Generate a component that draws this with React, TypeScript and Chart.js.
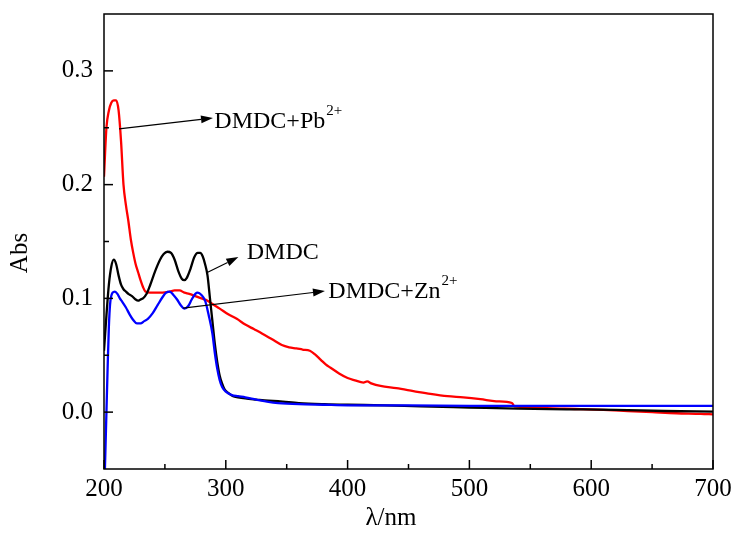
import React, { useEffect, useRef } from 'react';
import { Chart, registerables } from 'chart.js';

Chart.register(...registerables);

// ---- data ----
const pbWavelength = [200, 202, 204, 206, 208, 210, 212, 214, 216, 218, 220, 222, 224, 226, 228, 230, 232, 234, 238, 242, 248, 254, 258, 262, 266, 270, 275, 280, 285, 289, 295, 302, 309, 316, 323, 330, 338, 346, 352, 358, 363, 369, 373, 378, 382, 386, 393, 400, 406, 413, 416, 420, 427, 440, 454, 468, 482, 495, 509, 522, 535, 537, 550, 564, 578, 591, 610, 630, 650, 670, 690, 700];
const pbAbs = [0.207, 0.25, 0.265, 0.272, 0.274, 0.274, 0.265, 0.238, 0.2, 0.182, 0.168, 0.152, 0.14, 0.13, 0.123, 0.116, 0.11, 0.106, 0.105, 0.105, 0.105, 0.106, 0.107, 0.107, 0.105, 0.104, 0.102, 0.1, 0.098, 0.095, 0.091, 0.086, 0.082, 0.077, 0.073, 0.069, 0.064, 0.059, 0.057, 0.056, 0.055, 0.054, 0.051, 0.046, 0.042, 0.039, 0.034, 0.03, 0.028, 0.026, 0.027, 0.025, 0.023, 0.021, 0.0185, 0.016, 0.014, 0.013, 0.0114, 0.0095, 0.008, 0.005, 0.0045, 0.0035, 0.003, 0.0026, 0.002, 0.001, 0.0, -0.001, -0.0015, -0.002];

const dmdcWavelength = [200, 202, 204, 206, 208, 210, 212, 214, 216, 218, 220, 223, 226, 228, 230, 232, 235, 238, 242, 246, 249, 252, 255, 258, 261, 264, 266, 268, 271, 274, 277, 279, 281, 283, 285, 287, 289, 291, 293, 295, 297, 299, 302, 306, 310, 316, 325, 335, 343, 360, 381, 400, 430, 460, 500, 540, 580, 620, 660, 700];
const dmdcAbs = [0.054, 0.085, 0.112, 0.128, 0.134, 0.13, 0.12, 0.112, 0.108, 0.106, 0.104, 0.102, 0.099, 0.098, 0.099, 0.1, 0.104, 0.112, 0.124, 0.134, 0.139, 0.141, 0.14, 0.134, 0.124, 0.117, 0.116, 0.118, 0.126, 0.136, 0.14, 0.14, 0.137, 0.13, 0.12, 0.1, 0.08, 0.06, 0.044, 0.032, 0.025, 0.02, 0.017, 0.014, 0.013, 0.012, 0.011, 0.01, 0.0097, 0.008, 0.007, 0.0065, 0.006, 0.005, 0.004, 0.003, 0.0025, 0.002, 0.001, 0.0005];

const znWavelength = [200, 201, 202, 203, 204, 205, 207, 209, 211, 213, 215, 218, 221, 224, 227, 230, 233, 236, 240, 244, 248, 251, 254, 257, 260, 263, 266, 269, 272, 275, 277, 280, 283, 286, 289, 291, 293, 295, 297, 300, 305, 310, 316, 325, 335, 343, 360, 380, 400, 450, 500, 550, 600, 650, 700];
const znAbs = [-0.08, -0.04, 0.0, 0.04, 0.075, 0.095, 0.105, 0.106, 0.104, 0.1, 0.097, 0.092, 0.086, 0.081, 0.078, 0.078, 0.08, 0.082, 0.087, 0.094, 0.101, 0.105, 0.106, 0.103, 0.099, 0.094, 0.091, 0.093, 0.099, 0.104, 0.105, 0.103, 0.098, 0.085, 0.069, 0.052, 0.038, 0.028, 0.022, 0.018, 0.015, 0.014, 0.013, 0.011, 0.009, 0.008, 0.007, 0.0065, 0.006, 0.006, 0.0055, 0.0055, 0.0055, 0.0055, 0.0055];

const xMajorTicks = [200, 300, 400, 500, 600, 700];
const xMinorTicks = [250, 350, 450, 550, 650];
const yMajorTicks = [0.0, 0.1, 0.2, 0.3];
const yMinorTicks = [0.05, 0.15, 0.25];

const xTitle = 'λ/nm';
const yTitle = 'Abs';

// annotation labels: text, superscript, arrow start/end and text baseline in data units
const labelTexts = ['DMDC+Pb', 'DMDC', 'DMDC+Zn'];
const labelSups = ['2+', '', '2+'];
const arrowFrom = [[212.3, 0.249], [284.3, 0.1225], [264.9, 0.0915]];
const arrowTo = [[289.5, 0.2586], [310.3, 0.1363], [381.4, 0.1064]];
const labelAt = [[290.6, 0.2500], [317.2, 0.1346], [384.2, 0.1005]];

const FONT = '"Liberation Serif", "Times New Roman", serif';

const toPoints = (xs: number[], ys: number[]) => xs.map((x, i) => ({ x, y: ys[i] }));

const decorPlugin = {
  id: 'decor',
  afterDatasetsDraw(chart: any) {
    const { ctx, chartArea: a, scales } = chart;
    const xs = scales.x;
    const ys = scales.y;
    ctx.save();
    ctx.strokeStyle = '#000';
    ctx.fillStyle = '#000';
    ctx.lineWidth = 1.5;
    ctx.strokeRect(a.left, a.top, a.right - a.left, a.bottom - a.top);
    const seg = (x1: number, y1: number, x2: number, y2: number) => {
      ctx.beginPath();
      ctx.moveTo(x1, y1);
      ctx.lineTo(x2, y2);
      ctx.stroke();
    };
    xMajorTicks.forEach((v) => { const p = xs.getPixelForValue(v); seg(p, a.bottom, p, a.bottom - 9); });
    xMinorTicks.forEach((v) => { const p = xs.getPixelForValue(v); seg(p, a.bottom, p, a.bottom - 5); });
    yMajorTicks.forEach((v) => { const p = ys.getPixelForValue(v); seg(a.left, p, a.left + 9, p); });
    yMinorTicks.forEach((v) => { const p = ys.getPixelForValue(v); seg(a.left, p, a.left + 5, p); });

    // axis titles
    ctx.font = `25px ${FONT}`;
    ctx.textAlign = 'center';
    ctx.textBaseline = 'middle';
    ctx.fillText(xTitle, a.left + 287, a.bottom + 49);
    ctx.save();
    ctx.translate(a.left - 84, a.top + 239);
    ctx.rotate(-Math.PI / 2);
    ctx.fillText(yTitle, 0, 0);
    ctx.restore();

    // annotations
    ctx.lineWidth = 1.2;
    labelTexts.forEach((t, i) => {
      const x1 = xs.getPixelForValue(arrowFrom[i][0]);
      const y1 = ys.getPixelForValue(arrowFrom[i][1]);
      const x2 = xs.getPixelForValue(arrowTo[i][0]);
      const y2 = ys.getPixelForValue(arrowTo[i][1]);
      const ang = Math.atan2(y2 - y1, x2 - x1);
      const hl = 12;
      const hw = 4;
      const bx = x2 - hl * Math.cos(ang);
      const by = y2 - hl * Math.sin(ang);
      seg(x1, y1, bx, by);
      ctx.beginPath();
      ctx.moveTo(x2, y2);
      ctx.lineTo(bx + hw * Math.sin(ang), by - hw * Math.cos(ang));
      ctx.lineTo(bx - hw * Math.sin(ang), by + hw * Math.cos(ang));
      ctx.closePath();
      ctx.fill();
      const tx = xs.getPixelForValue(labelAt[i][0]);
      const ty = ys.getPixelForValue(labelAt[i][1]);
      ctx.font = `24px ${FONT}`;
      ctx.textBaseline = 'alphabetic';
      ctx.textAlign = 'left';
      ctx.fillText(t, tx, ty);
      if (labelSups[i]) {
        const w = ctx.measureText(t).width;
        ctx.font = `15px ${FONT}`;
        ctx.fillText(labelSups[i], tx + w + 1, ty - 13);
      }
    });
    ctx.restore();
  },
};

export default function App() {
  const ref = useRef<HTMLCanvasElement>(null);
  useEffect(() => {
    document.body.style.margin = '0';
    const chart = new Chart(ref.current as HTMLCanvasElement, {
      type: 'line',
      data: {
        datasets: [
          { label: 'DMDC+Zn2+', data: toPoints(znWavelength, znAbs), borderColor: '#0000ff', order: 1 },
          { label: 'DMDC', data: toPoints(dmdcWavelength, dmdcAbs), borderColor: '#000000', order: 2 },
          { label: 'DMDC+Pb2+', data: toPoints(pbWavelength, pbAbs), borderColor: '#ff0000', order: 3 },
        ].map((d) => ({ ...d, borderWidth: 2.3, pointRadius: 0, fill: false, cubicInterpolationMode: 'monotone' as const })),
      },
      options: {
        animation: false,
        responsive: true,
        maintainAspectRatio: false,
        layout: { padding: { top: 14, right: 21, bottom: 0, left: 0 } },
        plugins: { legend: { display: false }, tooltip: { enabled: false } },
        scales: {
          x: {
            type: 'linear',
            min: 200,
            max: 700,
            afterBuildTicks: (s: any) => { s.ticks = xMajorTicks.map((v) => ({ value: v })); },
            afterFit: (s: any) => { s.height = 69; s.paddingLeft = 0; s.paddingRight = 0; },
            grid: { display: false, drawTicks: false },
            border: { display: false },
            ticks: { color: '#000', font: { family: FONT, size: 25 }, padding: 5, maxRotation: 0, callback: (v: any) => String(v) },
          },
          y: {
            type: 'linear',
            min: -0.05,
            max: 0.35,
            afterBuildTicks: (s: any) => { s.ticks = yMajorTicks.map((v) => ({ value: v })); },
            afterFit: (s: any) => { s.width = 104; s.paddingTop = 0; s.paddingBottom = 0; },
            grid: { display: false, drawTicks: false },
            border: { display: false },
            ticks: { color: '#000', font: { family: FONT, size: 25 }, padding: 11, callback: (v: any) => Number(v).toFixed(1) },
          },
        },
      },
      plugins: [decorPlugin],
    });
    return () => chart.destroy();
  }, []);
  return (
    <div style={{ width: 734, height: 538, position: 'relative' }}>
      <canvas ref={ref} />
    </div>
  );
}
